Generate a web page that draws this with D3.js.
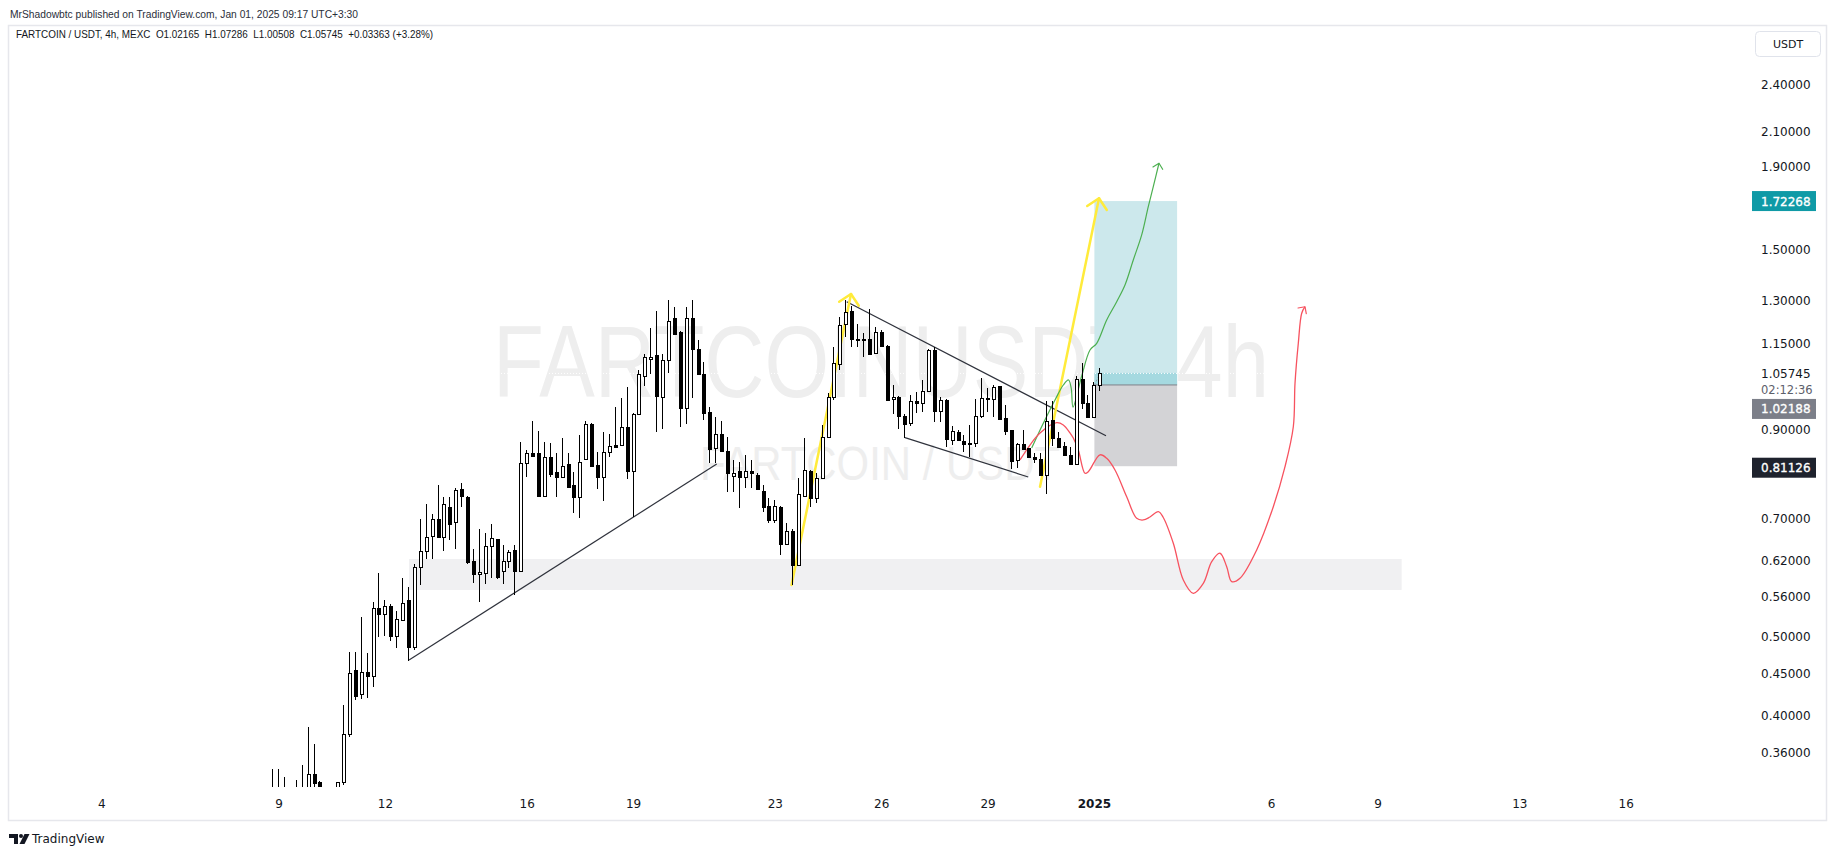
<!DOCTYPE html>
<html><head><meta charset="utf-8">
<script src="https://d3js.org/d3.v7.min.js"></script>
<style>html,body{margin:0;padding:0;background:#fff;} svg{display:block;}</style>
</head><body>
<svg id="chart" width="1835" height="855"></svg>
<script>
// ---------- data ----------
const startDay = 8 + 20 / 24;   // first 4h candle: Dec 8, 20:00 (Dec = day of month, Jan 1 = 32)
const opens = [0.318,0.312,0.318,0.310,0.305,0.315,0.320,0.3386,0.3307,0.318,
0.312,0.320,0.3307,0.3789,0.4549,0.4245,0.4519,0.4475,0.5418,0.5327,
0.5454,0.5014,0.5242,0.5549,0.4860,0.6087,0.6372,0.6648,0.6976,0.6629,
0.7218,0.6930,0.7599,0.7431,0.6198,0.5973,0.5985,0.6473,0.6592,0.6030,
0.6198,0.6396,0.6030,0.8181,0.8416,0.8416,0.7460,0.8320,0.7975,0.7862,
0.8157,0.7691,0.7431,0.8272,0.9138,0.8141,0.7862,0.8455,0.8616,0.8616,
0.9059,0.8011,0.9402,1.0481,1.0991,1.1116,0.9885,1.0970,1.2346,1.1888,
0.9561,1.2346,1.1308,1.0533,0.9472,0.8533,0.8882,0.8472,0.7897,0.8004,
0.7874,0.8004,0.7914,0.7561,0.7252,0.6964,0.7231,0.6500,0.6750,0.6128,
0.7460,0.8004,0.7404,0.7838,0.8806,0.9885,1.0836,1.2140,1.2608,1.1641,
1.1641,1.1641,1.1180,1.1868,1.1423,0.9810,0.9868,0.9364,0.9164,0.9765,
0.9718,1.0054,1.1286,0.9499,0.9792,0.8740,0.8949,0.8715,0.8658,0.8658,
0.9356,0.9837,0.9819,1.0187,0.9296,0.8992,0.8258,0.8633,0.8533,0.8334,
0.8281,0.7914,0.9251,0.8795,0.8591,0.8379,0.8157,1.0385,0.9700,0.9337,
1.02165];
const highs = [0.3435,0.3435,0.3355,0.322,0.3329,0.3473,0.3865,0.3686,0.3320,0.325,
0.324,0.3310,0.4118,0.4783,0.4783,0.5290,0.4778,0.5522,0.5985,0.5549,
0.5486,0.5382,0.5900,0.5751,0.6137,0.6986,0.7287,0.7090,0.7691,0.7432,
0.7428,0.7618,0.7729,0.7457,0.6406,0.6782,0.6711,0.6875,0.6597,0.6488,
0.6396,0.6477,0.8690,0.8496,0.9225,0.8966,0.8683,0.8658,0.8416,0.8780,
0.8416,0.7988,0.8864,0.9225,0.9180,0.8455,0.8933,0.8890,0.9589,0.9837,
1.0167,0.9437,1.0663,1.1158,1.2000,1.2619,1.1158,1.3008,1.2760,1.1912,
1.2760,1.3008,1.1611,1.0917,0.9606,0.9337,0.9225,0.8821,0.8258,0.8218,
0.8379,0.8258,0.7952,0.7691,0.7404,0.7371,0.7246,0.6899,0.6780,0.7851,
0.8795,0.8027,0.7952,0.9120,0.9980,1.1390,1.2403,1.3008,1.2797,1.2140,
1.1834,1.2680,1.2056,1.1946,1.1446,1.0217,0.9902,0.9400,0.9931,1.0025,
1.0364,1.1318,1.1390,0.9867,0.9820,0.9094,0.8992,0.8865,0.9120,0.9811,
1.0412,1.0120,1.0217,1.0202,0.9653,0.9004,0.8658,0.8992,0.8553,0.8416,
0.8416,0.9773,0.9773,0.8949,0.8698,0.8574,1.0481,1.0867,0.9931,1.0313,
1.07286];
const lows = [0.305,0.300,0.305,0.298,0.295,0.305,0.315,0.320,0.312,0.305,
0.303,0.315,0.328,0.3763,0.4177,0.4187,0.4203,0.4329,0.4990,0.5014,
0.4943,0.4836,0.5235,0.4672,0.4810,0.5785,0.6227,0.6227,0.6610,0.6380,
0.6588,0.6408,0.7231,0.6151,0.5823,0.5513,0.5806,0.5910,0.5889,0.5806,
0.6075,0.5628,0.6008,0.7874,0.8334,0.7439,0.7453,0.7874,0.7439,0.7850,
0.7626,0.7110,0.6996,0.8258,0.8117,0.7596,0.7356,0.8334,0.8566,0.8591,
0.7824,0.7029,0.9397,1.0187,1.0542,0.8949,0.9007,1.0581,1.1777,0.9075,
0.9146,0.9837,1.0511,0.9251,0.8181,0.8181,0.8455,0.7546,0.7546,0.7197,
0.7618,0.7632,0.7594,0.7130,0.6899,0.6899,0.6305,0.6488,0.5790,0.6110,
0.7439,0.7231,0.7302,0.7834,0.8778,0.9792,1.0663,1.1719,1.1390,1.1390,
1.1071,1.1126,1.1142,1.1383,0.9792,0.9410,0.9020,0.8788,0.9093,0.9445,
0.9472,1.0045,0.9206,0.9206,0.8574,0.8616,0.8715,0.8455,0.8320,0.8560,
0.9296,0.9472,0.9337,0.9264,0.8865,0.8040,0.8063,0.8509,0.8297,0.8195,
0.7903,0.7497,0.8591,0.8533,0.8367,0.8141,0.8141,0.9537,0.9320,0.9329,
1.00508];
const closes = [0.312,0.318,0.310,0.305,0.315,0.320,0.3386,0.3303,0.318,0.312,
0.320,0.3307,0.3789,0.4506,0.4224,0.4519,0.4475,0.5418,0.5327,0.5454,
0.5014,0.5251,0.5497,0.4850,0.6087,0.6372,0.6629,0.6976,0.6629,0.7283,
0.6891,0.7583,0.7447,0.6186,0.5973,0.6003,0.6473,0.6609,0.5927,0.6198,
0.6351,0.6030,0.8181,0.8416,0.8358,0.7460,0.8320,0.7929,0.7862,0.8124,
0.7640,0.7431,0.8218,0.9138,0.8124,0.7862,0.8455,0.8591,0.8574,0.9059,
0.8011,0.9402,1.0533,1.1052,1.1052,0.9911,1.0970,1.2255,1.1800,0.9561,
1.2346,1.1308,1.0533,0.9445,0.8509,0.8882,0.8479,0.7952,0.7952,0.7874,
0.8004,0.7952,0.7605,0.7231,0.6964,0.7252,0.6500,0.6750,0.6128,0.7490,
0.8027,0.7417,0.7838,0.8806,0.9885,1.0867,1.2115,1.2583,1.1630,1.1601,
1.1595,1.1148,1.1868,1.1423,0.9802,0.9885,0.9364,0.9138,0.9773,0.9718,
1.0054,1.1286,0.9499,0.9792,0.8755,0.8966,0.8740,0.8641,0.8633,0.9356,
0.9837,0.9811,1.0149,0.9278,0.8974,0.8242,0.8633,0.8522,0.8320,0.8273,
0.7914,0.9234,0.8778,0.8574,0.8379,0.8157,1.0385,0.9700,0.9337,1.0219,
1.05745];

const priceTicks = [2.4, 2.1, 1.9, 1.5, 1.3, 1.15, 0.9, 0.7, 0.62, 0.56, 0.5, 0.45, 0.4, 0.36];
const dayTicks = [4, 9, 12, 16, 19, 23, 26, 29, 32, 37, 40, 44, 47];
const dayLabels = ["4", "9", "12", "16", "19", "23", "26", "29", "2025", "6", "9", "13", "16"];

// drawings, as [day, price]
const trendUp = [[12.667, 0.4679], [21.346, 0.8164]];
const wedgeTop = [[25.013, 1.2945], [32.327, 0.8846]];
const wedgeBottom = [[26.657, 0.8797], [30.135, 0.7868]];
const yellowFirst = [[23.456, 0.5790], [25.134, 1.3230]];
const yellowSecond = [[30.466, 0.7654], [32.130, 1.7365]];
const greenPath = [[30.231, 0.8541], [30.559, 0.9164], [30.903, 0.9819], [31.123, 1.0217], [31.270, 1.0364],
  [31.346, 1.0129], [31.396, 0.9597], [31.642, 1.0481], [31.876, 1.1286], [32.065, 1.1502], [32.347, 1.2290],
  [32.629, 1.2945], [32.863, 1.3574], [33.097, 1.4573], [33.334, 1.5646], [33.520, 1.6955], [33.661, 1.7946], [33.822, 1.9180]];
const redPath = [[29.901, 0.8258], [30.183, 0.8616], [30.466, 0.8916], [30.936, 0.9180], [31.123, 0.9120],
  [31.312, 0.8916], [31.405, 0.8790], [31.546, 0.8496], [31.735, 0.7952], [31.828, 0.7988], [32.158, 0.8379],
  [32.347, 0.8297], [32.581, 0.8027], [32.911, 0.7439], [33.193, 0.6996], [33.379, 0.6964], [33.568, 0.7023],
  [33.803, 0.7130], [33.935, 0.7023], [34.226, 0.6518], [34.508, 0.5873], [34.790, 0.5655], [35.072, 0.5817],
  [35.309, 0.6186], [35.543, 0.6336], [35.732, 0.6099], [35.873, 0.5845], [36.107, 0.5902], [36.578, 0.6396],
  [37.047, 0.7231], [37.377, 0.8102], [37.611, 0.9075], [37.659, 1.0267], [37.752, 1.1502], [37.848, 1.2526], [37.941, 1.2760]];
const zoneDays = [12.667, 40.667];
const zonePrices = [0.6234, 0.5709];
const positionDays = [32, 34.333];
const positionPrices = [1.72268, 1.02188, 0.81126]; // target, entry, stop
const lastPrice = 1.05745;
const countdown = "02:12:36";

// ---------- layout ----------
const svg = d3.select("#chart");
const plotL = 9, plotR = 1752, plotT = 26, plotB = 787;
const x = d3.scaleLinear().domain([4, 47]).range([101.8, 1626.15]);
const y = d3.scaleLog().domain([0.36, 2.4]).range([752.3, 84.3]);
const axisFont = "DejaVu Sans, Verdana, sans-serif";
const uiFont = "Liberation Sans, Arial, sans-serif";

svg.append("rect").attr("width", 1835).attr("height", 855).attr("fill", "#fff");

const defs = svg.append("defs");
defs.append("clipPath").attr("id", "plotClip").append("rect")
  .attr("x", plotL).attr("y", plotT).attr("width", plotR - plotL).attr("height", plotB - plotT);
function chevron(id, color, size, sw) {
  defs.append("marker").attr("id", id).attr("markerUnits", "userSpaceOnUse")
    .attr("viewBox", `${-size - 3} ${-size - 3} ${size + 6} ${2 * size + 6}`)
    .attr("refX", 0).attr("refY", 0).attr("markerWidth", size + 6).attr("markerHeight", 2 * size + 6)
    .attr("orient", "auto").attr("overflow", "visible")
    .append("path").attr("d", `M${-size},${-size}L0,0L${-size},${size}`)
    .attr("fill", "none").attr("stroke", color).attr("stroke-width", sw)
    .attr("stroke-linecap", "round").attr("stroke-linejoin", "round");
}
chevron("arrYellow", "#ffeb3b", 10, 2.5);
chevron("arrGreen", "#4caf50", 5, 1.2);
chevron("arrRed", "#f7525f", 5, 1.2);

// header
svg.append("text").attr("x", 10).attr("y", 18).attr("font-family", uiFont).attr("font-size", 10.5)
  .attr("fill", "#2a2e39").attr("textLength", 348).attr("lengthAdjust", "spacingAndGlyphs")
  .text("MrShadowbtc published on TradingView.com, Jan 01, 2025 09:17 UTC+3:30");
svg.append("rect").attr("x", 8.5).attr("y", 25.5).attr("width", 1818).attr("height", 795)
  .attr("fill", "none").attr("stroke", "#e6e7ec").attr("stroke-width", 1.5);

// plot
const plot = svg.append("g").attr("clip-path", "url(#plotClip)");

plot.append("text").attr("x", 881).attr("y", 397).attr("text-anchor", "middle")
  .attr("font-family", uiFont).attr("font-size", 102).attr("fill", "#eeeeee")
  .attr("textLength", 776).attr("lengthAdjust", "spacingAndGlyphs").text("FARTCOINUSDT, 4h");
plot.append("text").attr("x", 880).attr("y", 480).attr("text-anchor", "middle")
  .attr("font-family", uiFont).attr("font-size", 49).attr("fill", "#eeeeee")
  .attr("textLength", 360).attr("lengthAdjust", "spacingAndGlyphs").text("FARTCOIN / USDT");

// support zone
plot.append("rect").attr("x", x(zoneDays[0])).attr("y", y(zonePrices[0]))
  .attr("width", x(zoneDays[1]) - x(zoneDays[0])).attr("height", y(zonePrices[1]) - y(zonePrices[0]))
  .attr("fill", "#f0f0f2");

// long position tool
const px0 = x(positionDays[0]), px1 = x(positionDays[1]);
plot.append("rect").attr("x", px0).attr("y", y(positionPrices[0])).attr("width", px1 - px0)
  .attr("height", y(positionPrices[1]) - y(positionPrices[0])).attr("fill", "#cce8ec");
plot.append("rect").attr("x", px0).attr("y", y(lastPrice)).attr("width", px1 - px0)
  .attr("height", y(positionPrices[1]) - y(lastPrice)).attr("fill", "#a5d9e0");
plot.append("rect").attr("x", px0).attr("y", y(positionPrices[1])).attr("width", px1 - px0)
  .attr("height", y(positionPrices[2]) - y(positionPrices[1])).attr("fill", "#d3d3d6");
plot.append("line").attr("x1", px0).attr("x2", px1).attr("y1", y(positionPrices[1])).attr("y2", y(positionPrices[1]))
  .attr("stroke", "#7d808a").attr("stroke-width", 1);
plot.append("line").attr("x1", px0).attr("y1", y(positionPrices[1]))
  .attr("x2", x(startDay + (opens.length - 1) / 6)).attr("y2", y(lastPrice))
  .attr("stroke", "#9598a1").attr("stroke-dasharray", "2,2");

// last price dotted line
plot.append("line").attr("x1", plotL).attr("x2", plotR).attr("y1", y(lastPrice) + 0.5).attr("y2", y(lastPrice) + 0.5)
  .attr("stroke", "#ffffff").attr("stroke-dasharray", "1,2");

// drawings (under the candles, as in the reference)
const seg = d3.line().x(d => x(d[0])).y(d => y(d[1]));
[trendUp, wedgeTop, wedgeBottom].forEach(p =>
  plot.append("path").attr("d", seg(p)).attr("fill", "none").attr("stroke", "#2f323c").attr("stroke-width", 1.2));
[yellowFirst, yellowSecond].forEach(p =>
  plot.append("path").attr("d", seg(p)).attr("fill", "none").attr("stroke", "#ffeb3b")
    .attr("stroke-width", 2.5).attr("stroke-linecap", "round").attr("marker-end", "url(#arrYellow)"));
const curve = d3.line().x(d => x(d[0])).y(d => y(d[1])).curve(d3.curveCatmullRom.alpha(0.5));
plot.append("path").attr("d", curve(greenPath)).attr("fill", "none").attr("stroke", "#4caf50")
  .attr("stroke-width", 1.2).attr("marker-end", "url(#arrGreen)");
plot.append("path").attr("d", curve(redPath)).attr("fill", "none").attr("stroke", "#f7525f")
  .attr("stroke-width", 1.3).attr("marker-end", "url(#arrRed)");

// candles
const candles = opens.map((o, i) => ({ day: startDay + i / 6, o, h: highs[i], l: lows[i], c: closes[i] }));
const cg = plot.append("g");
cg.selectAll("line.wick").data(candles).join("line").attr("class", "wick")
  .attr("x1", d => Math.round(x(d.day)) - 0.5).attr("x2", d => Math.round(x(d.day)) - 0.5)
  .attr("y1", d => Math.round(y(d.h))).attr("y2", d => Math.round(y(d.l)))
  .attr("stroke", "#000").attr("stroke-width", 1);
cg.selectAll("rect.body").data(candles).join("rect").attr("class", "body")
  .attr("x", d => Math.round(x(d.day)) - 1.5).attr("width", 3)
  .attr("y", d => Math.round(y(Math.max(d.o, d.c))) + 0.5)
  .attr("height", d => Math.max(1, Math.round(y(Math.min(d.o, d.c))) - Math.round(y(Math.max(d.o, d.c)))))
  .attr("fill", d => d.c >= d.o ? "#fff" : "#000").attr("stroke", "#000").attr("stroke-width", 1);

// header line 2 (inside pane)
svg.append("text").attr("x", 16).attr("y", 38).attr("font-family", uiFont).attr("font-size", 11)
  .attr("fill", "#131722").attr("textLength", 417).attr("lengthAdjust", "spacingAndGlyphs").attr("xml:space", "preserve")
  .text("FARTCOIN / USDT, 4h, MEXC  O1.02165  H1.07286  L1.00508  C1.05745  +0.03363 (+3.28%)");

// price axis
const ax = svg.append("g");
ax.append("rect").attr("x", 1755.5).attr("y", 31.5).attr("width", 65).attr("height", 25).attr("rx", 4)
  .attr("fill", "#fff").attr("stroke", "#e0e3eb");
ax.append("text").attr("x", 1788).attr("y", 48).attr("text-anchor", "middle").attr("font-family", axisFont)
  .attr("font-size", 11).attr("fill", "#131722").text("USDT");
ax.selectAll("text.tick").data(priceTicks).join("text").attr("class", "tick")
  .attr("x", 1761).attr("y", d => y(d) + 4.5).attr("font-family", axisFont).attr("font-size", 12)
  .attr("fill", "#131722").text(d => d3.format(".5f")(d));

function tag(price, cy, bg) {
  ax.append("rect").attr("x", 1752).attr("y", cy - 10).attr("width", 64).attr("height", 20).attr("fill", bg);
  ax.append("text").attr("x", 1761).attr("y", cy + 4.5).attr("font-family", axisFont).attr("font-size", 12)
    .attr("fill", "#fff").attr("stroke", "#fff").attr("stroke-width", 0.3).text(d3.format(".5f")(price));
}
tag(positionPrices[0], y(positionPrices[0]), "#0f9aa6");
tag(positionPrices[1], y(positionPrices[1]) + 24, "#7c7f89");
tag(positionPrices[2], y(positionPrices[2]) + 1.5, "#1e222d");
ax.append("text").attr("x", 1761).attr("y", y(lastPrice) + 5).attr("font-family", axisFont).attr("font-size", 12)
  .attr("fill", "#131722").text(d3.format(".5f")(lastPrice));
ax.append("text").attr("x", 1761).attr("y", y(lastPrice) + 21.5).attr("font-family", axisFont).attr("font-size", 11.5)
  .attr("fill", "#5d606b").text(countdown);

// time axis
svg.append("g").selectAll("text").data(dayTicks).join("text")
  .attr("x", d => x(d)).attr("y", 808).attr("text-anchor", "middle").attr("font-family", axisFont)
  .attr("font-size", 12).attr("fill", "#131722")
  .attr("font-weight", (d, i) => dayLabels[i] === "2025" ? "bold" : "normal")
  .text((d, i) => dayLabels[i]);

// footer logo
const logo = svg.append("g").attr("fill", "#131722");
logo.append("path").attr("d", "M9,834h9v10h-4v-6h-5z");
logo.append("circle").attr("cx", 21).attr("cy", 836).attr("r", 2);
logo.append("path").attr("d", "M24.5,834h5l-5,10h-5z");
svg.append("text").attr("x", 32).attr("y", 843).attr("font-family", axisFont).attr("font-size", 12)
  .attr("fill", "#131722").text("TradingView");
</script>
</body></html>
